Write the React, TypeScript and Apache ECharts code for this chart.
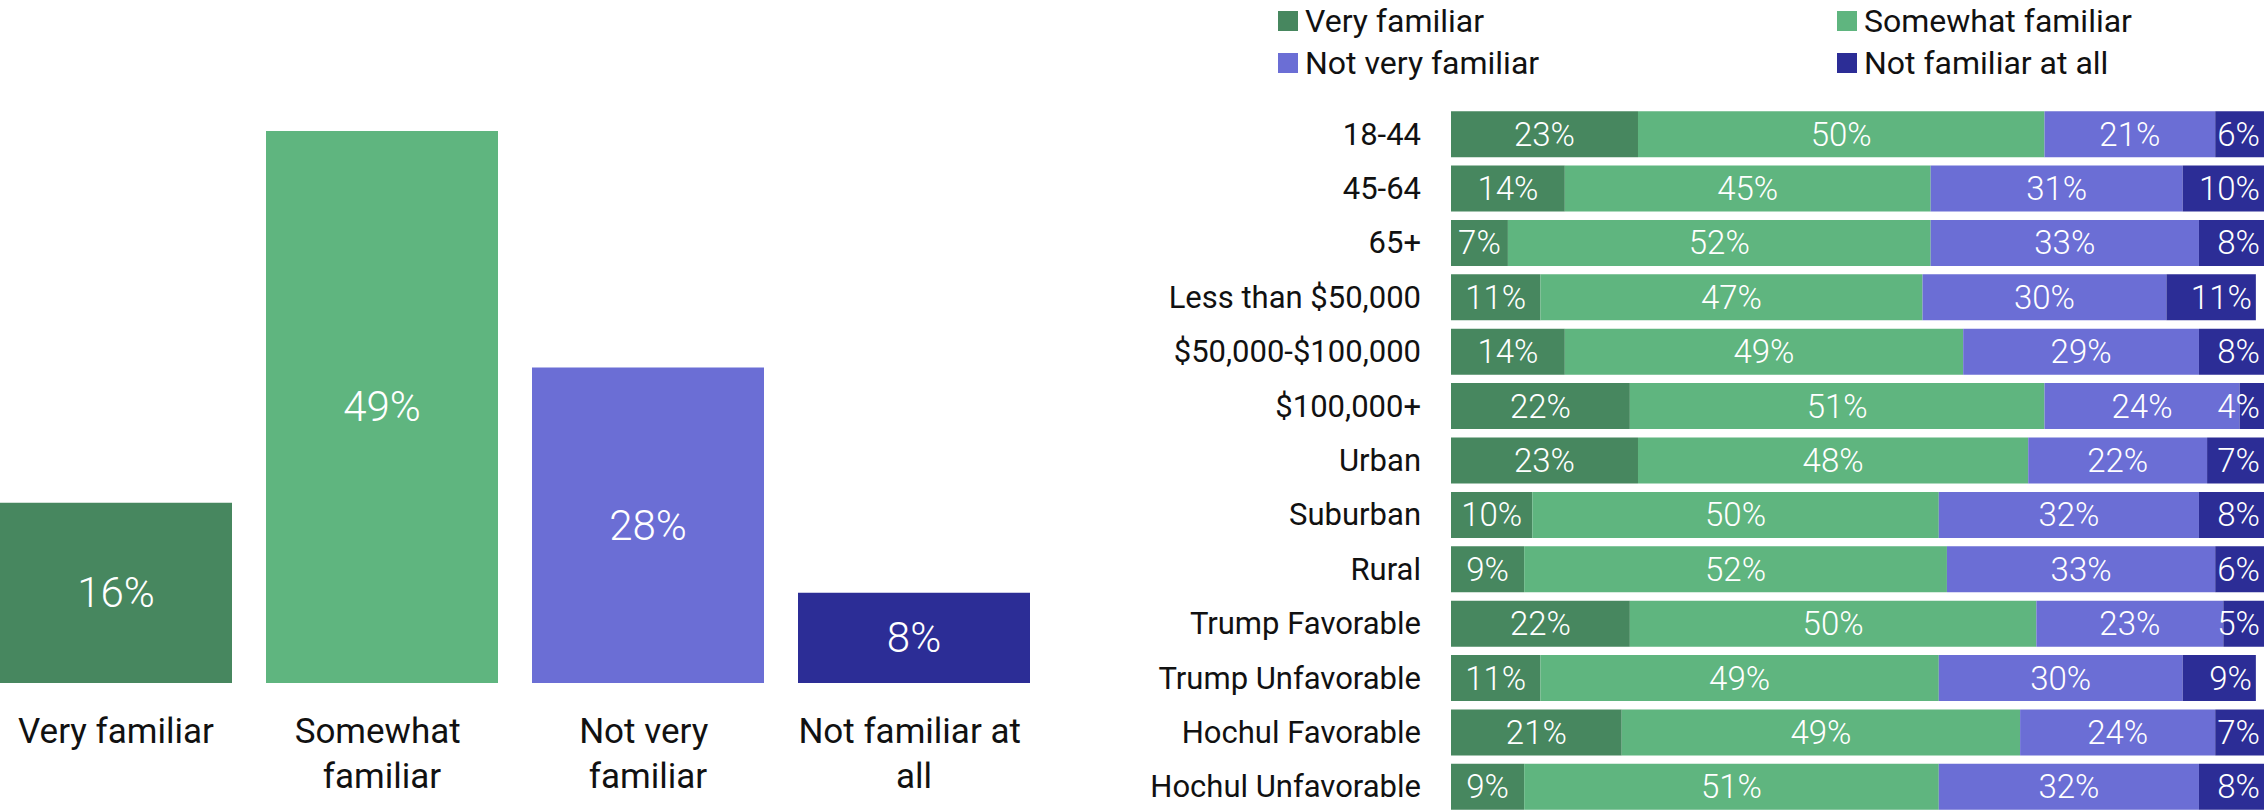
import React, { useEffect, useRef } from "react";
import * as echarts from "echarts";

const overallCategories = ["Very familiar", "Somewhat familiar", "Not very familiar", "Not familiar at all"];
const overallValues = [16, 49, 28, 8];

const groupCategories = [
  "18-44",
  "45-64",
  "65+",
  "Less than $50,000",
  "$50,000-$100,000",
  "$100,000+",
  "Urban",
  "Suburban",
  "Rural",
  "Trump Favorable",
  "Trump Unfavorable",
  "Hochul Favorable",
  "Hochul Unfavorable",
];
const veryFamiliar = [23, 14, 7, 11, 14, 22, 23, 10, 9, 22, 11, 21, 9];
const somewhatFamiliar = [50, 45, 52, 47, 49, 51, 48, 50, 52, 50, 49, 49, 51];
const notVeryFamiliar = [21, 31, 33, 30, 29, 24, 22, 32, 33, 23, 30, 24, 32];
const notFamiliarAtAll = [6, 10, 8, 11, 8, 4, 7, 8, 6, 5, 9, 7, 8];

const COLORS = ["#47875F", "#5FB57F", "#6B6ED5", "#2C2D96"];
const FONT = "Roboto, 'Noto Sans', sans-serif";

export default function App() {
  const ref = useRef<HTMLDivElement>(null);

  useEffect(() => {
    if (!ref.current) return;
    const chart = echarts.init(ref.current, undefined, { renderer: "svg" });

    const groupSeries = [
      { name: overallCategories[0], data: veryFamiliar },
      { name: overallCategories[1], data: somewhatFamiliar },
      { name: overallCategories[2], data: notVeryFamiliar },
      { name: overallCategories[3], data: notFamiliarAtAll },
    ].map((s, i) => ({
      type: "bar",
      name: s.name,
      stack: "total",
      xAxisIndex: 1,
      yAxisIndex: 1,
      barWidth: 46,
      data: s.data,
      itemStyle: { color: COLORS[i] },
      label: {
        show: true,
        position: i === 3 ? "insideRight" : "inside",
        distance: 4,
        formatter: "{c}%",
        color: "#ffffff",
        fontFamily: FONT,
        fontSize: 33,
        fontWeight: 300,
      },
    }));

    const legendText = { fontSize: 32, lineHeight: 32, color: "#111", fontFamily: FONT, padding: [0, 0, 0, 2] };

    chart.setOption({
      animation: false,
      textStyle: { fontFamily: FONT },
      legend: [
        {
          data: [overallCategories[0], overallCategories[2]],
          orient: "vertical",
          left: 1273,
          top: 0,
          itemWidth: 20,
          itemHeight: 20,
          itemGap: 10,
          icon: "rect",
          selectedMode: false,
          textStyle: legendText,
        },
        {
          data: [overallCategories[1], overallCategories[3]],
          orient: "vertical",
          left: 1832,
          top: 0,
          itemWidth: 20,
          itemHeight: 20,
          itemGap: 10,
          icon: "rect",
          selectedMode: false,
          textStyle: legendText,
        },
      ],
      grid: [
        { left: -17, top: 7, width: 1064, height: 676, containLabel: false, outerBoundsMode: "none" },
        { left: 1451, top: 107, width: 813, height: 707, containLabel: false, outerBoundsMode: "none" },
      ],
      xAxis: [
        {
          type: "category",
          gridIndex: 0,
          data: overallCategories,
          axisLine: { show: false },
          axisTick: { show: false },
          axisLabel: {
            margin: 26,
            fontSize: 35,
            lineHeight: 45,
            color: "#111",
            fontFamily: FONT,
            width: 232,
            overflow: "break",
            interval: 0,
          },
        },
        {
          type: "value",
          gridIndex: 1,
          min: 0,
          max: 100,
          show: false,
          splitLine: { show: false },
        },
      ],
      yAxis: [
        {
          type: "value",
          gridIndex: 0,
          min: 0,
          max: 60,
          show: false,
          splitLine: { show: false },
        },
        {
          type: "category",
          gridIndex: 1,
          data: groupCategories,
          inverse: true,
          axisLine: { show: false },
          axisTick: { show: false },
          axisLabel: {
            margin: 30,
            fontSize: 31,
            color: "#111",
            fontFamily: FONT,
            interval: 0,
          },
        },
      ],
      series: [
        {
          type: "bar",
          name: "Overall",
          xAxisIndex: 0,
          yAxisIndex: 0,
          barWidth: 232,
          data: overallValues.map((v, i) => ({ value: v, itemStyle: { color: COLORS[i] } })),
          label: {
            show: true,
            position: "inside",
            formatter: "{c}%",
            color: "#ffffff",
            fontFamily: FONT,
            fontSize: 42,
            fontWeight: 300,
          },
        },
        ...groupSeries,
      ],
    });

    return () => chart.dispose();
  }, []);

  return (
    <div
      ref={ref}
      style={{ position: "fixed", left: 0, top: 0, width: 2264, height: 810, background: "#fff" }}
    />
  );
}
